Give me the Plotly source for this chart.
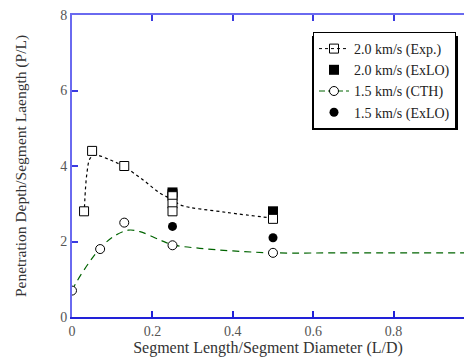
import plotly.graph_objects as go

# ---- data ----
exp_x = [0.03, 0.05, 0.13, 0.25, 0.25, 0.25, 0.5]
exp_y = [2.8, 4.4, 4.0, 3.2, 3.0, 2.8, 2.6]
exp_fit_x = [0.031, 0.037, 0.045, 0.057, 0.095, 0.13, 0.177, 0.219, 0.252, 0.269, 0.385, 0.5]
exp_fit_y = [2.9, 3.8, 4.2, 4.29, 4.16, 3.98, 3.63, 3.28, 3.10, 2.97, 2.77, 2.62]

exlo20_x = [0.25, 0.25, 0.5]
exlo20_y = [3.3, 3.25, 2.8]

cth_x = [0.0, 0.07, 0.13, 0.25, 0.5]
cth_y = [0.7, 1.8, 2.5, 1.9, 1.7]
cth_fit_x = [0.0, 0.012, 0.041, 0.07, 0.103, 0.14, 0.169, 0.219, 0.252, 0.318, 0.40, 0.5, 0.7, 1.0]
cth_fit_y = [0.7, 0.94, 1.42, 1.82, 2.13, 2.3, 2.26, 2.04, 1.91, 1.82, 1.75, 1.70, 1.70, 1.70]

exlo15_x = [0.25, 0.5]
exlo15_y = [2.4, 2.1]

x_ticks = [0, 0.2, 0.4, 0.6, 0.8]
y_ticks = [0, 2, 4, 6, 8]

FONT = "Liberation Serif"
W, H = 464, 361
ML, MR, MT, MB = 72, 0, 15, 44
pw, ph = W - ML - MR, H - MT - MB

fig = go.Figure()

# fitted curves (no legend)
fig.add_trace(go.Scatter(x=exp_fit_x, y=exp_fit_y, mode="lines", line=dict(color="black", width=1.2, dash="3px,3px", shape="spline"), showlegend=False, hoverinfo="skip"))
fig.add_trace(go.Scatter(x=cth_fit_x, y=cth_fit_y, mode="lines", line=dict(color="#006400", width=1.2, dash="7px,5px", shape="spline"), showlegend=False, hoverinfo="skip"))

# legend-only line+marker proxies
fig.add_trace(go.Scatter(x=[None], y=[None], mode="lines+markers", name="2.0 km/s (Exp.)",
                         line=dict(color="black", width=1, dash="3px,3px"),
                         marker=dict(symbol="square-open", size=9, color="black", line=dict(width=1))))
fig.add_trace(go.Scatter(x=exlo20_x, y=exlo20_y, mode="markers", name="2.0 km/s (ExLO)",
                         marker=dict(symbol="square", size=10, color="black")))
fig.add_trace(go.Scatter(x=[None], y=[None], mode="lines+markers", name="1.5 km/s (CTH)",
                         line=dict(color="#006400", width=1, dash="6px,3px"),
                         marker=dict(symbol="circle", size=9, color="white", line=dict(width=1, color="black"))))
fig.add_trace(go.Scatter(x=exlo15_x, y=exlo15_y, mode="markers", name="1.5 km/s (ExLO)",
                         marker=dict(symbol="circle", size=9, color="black")))

# data markers
fig.add_trace(go.Scatter(x=exp_x, y=exp_y, mode="markers", showlegend=False,
                         marker=dict(symbol="square", size=9, color="white", line=dict(width=1, color="black"))))
fig.add_trace(go.Scatter(x=cth_x, y=cth_y, mode="markers", showlegend=False,
                         marker=dict(symbol="circle", size=9, color="white", line=dict(width=1, color="black"))))

# top axis proxy trace
fig.add_trace(go.Scatter(x=[None], y=[None], xaxis="x2", showlegend=False))

xr = [0, pw / 402.0]

def px2paper_x(px):
    return (px - ML) / pw

def px2paper_y(py):
    return (H - MB - py) / ph

# legend drop shadow (behind legend box)
fig.add_shape(type="rect", xref="paper", yref="paper",
              x0=px2paper_x(312), x1=px2paper_x(458), y0=px2paper_y(130), y1=px2paper_y(36),
              fillcolor="black", line=dict(width=0), layer="above")

fig.update_layout(
    width=W, height=H,
    margin=dict(l=ML, r=MR, t=MT, b=MB),
    paper_bgcolor="white", plot_bgcolor="white",
    font=dict(family=FONT, color="#333333", size=12),
    showlegend=True,
    legend=dict(x=px2paper_x(313), y=px2paper_y(32), xanchor="left", yanchor="top",
                bgcolor="white", bordercolor="black", borderwidth=1,
                font=dict(family=FONT, size=14, color="#222222"),
                tracegroupgap=0, itemwidth=30),
    xaxis=dict(range=xr, tickvals=x_ticks, ticktext=["0", "0.2", "0.4", "0.6", "0.8"],
               showgrid=False, zeroline=False, showline=True, linecolor="#2222d8", linewidth=2,
               ticks="inside", ticklen=6, tickcolor="#2222d8", tickwidth=1.5,
               tickfont=dict(family=FONT, size=14, color="#555555"),
               title=dict(text="Segment Length/Segment Diameter (L/D)", font=dict(family=FONT, size=16, color="#333333"), standoff=4)),
    xaxis2=dict(range=xr, overlaying="x", side="top", tickvals=x_ticks, showticklabels=False,
                showgrid=False, zeroline=False, showline=True, linecolor="#6a6af0", linewidth=2,
                ticks="inside", ticklen=6, tickcolor="#3a3ae0", tickwidth=1.5),
    yaxis=dict(range=[0, 8], tickvals=y_ticks, showgrid=False, zeroline=False,
               showline=True, linecolor="#6a6af0", linewidth=2,
               ticks="inside", ticklen=6, tickcolor="#3a3ae0", tickwidth=1.5,
               tickfont=dict(family=FONT, size=14, color="#555555"),
               title=dict(text="Penetration Depth/Segment Laength (P/L)", font=dict(family=FONT, size=15.5, color="#333333"), standoff=30)),
)

fig.write_html("out.html")
